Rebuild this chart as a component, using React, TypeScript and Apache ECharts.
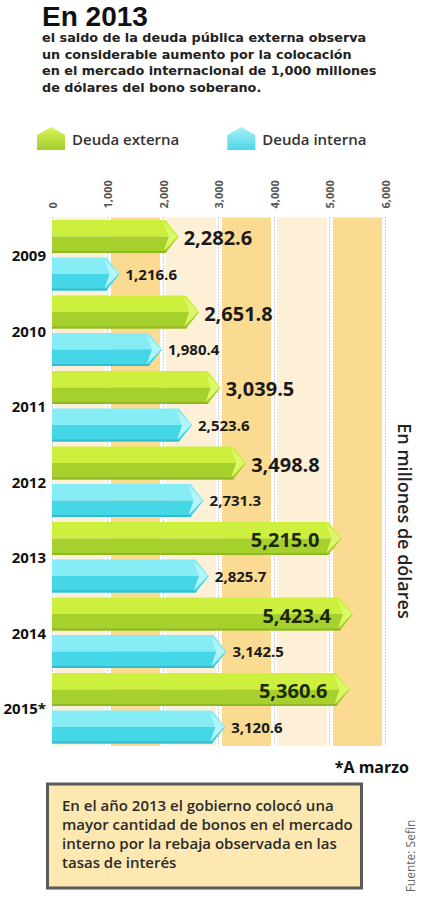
import { useEffect, useRef } from "react";
import * as echarts from "echarts";

const categories = ["2009", "2010", "2011", "2012", "2013", "2014", "2015*"];
const deudaExterna = [2282.6, 2651.8, 3039.5, 3498.8, 5215.0, 5423.4, 5360.6];
const deudaInterna = [1216.6, 1980.4, 2523.6, 2731.3, 2825.7, 3142.5, 3120.6];
const seriesNames = ["Deuda externa", "Deuda interna"];
const axisMin = 0;
const axisMax = 6000;
const axisStep = 1000;

const titleText = "En 2013";
const subtitleLines = [
  "el saldo de la deuda pública externa observa",
  "un considerable aumento por la colocación",
  "en el mercado internacional de 1,000 millones",
  "de dólares del bono soberano.",
];
const unitText = "En millones de dólares";
const noteText = "*A marzo";
const boxLines = [
  "En el año 2013 el gobierno colocó una",
  "mayor cantidad de bonos en el mercado",
  "interno por la rebaja observada en las",
  "tasas de interés",
];
const sourceText = "Fuente: Sefin";

const FONT = "'Open Sans', 'Noto Sans', sans-serif";
const WIDE = "'DejaVu Sans', 'Open Sans', sans-serif";
const TITLE_FONT = "'Liberation Sans', 'Open Sans', sans-serif";

const palettes = [
  { light: "#cdf03f", dark: "#a6d12c", face: "#dcf76a", edge: "#8fb826", legendTop: "#d6f55a", legendBot: "#a2cc2b" },
  { light: "#86ecf5", dark: "#45d6e7", face: "#b2f5fa", edge: "#33bccd", legendTop: "#a5f1f7", legendBot: "#4fd6e6" },
];

const fmt = (v: number) =>
  v.toLocaleString("en-US", { minimumFractionDigits: 1, maximumFractionDigits: 1 });

function makeRenderItem(idx: number) {
  const pal = palettes[idx];
  return (params: any, api: any) => {
    const val = api.value(0);
    const cat = api.value(1);
    const p0 = api.coord([0, cat]);
    const p1 = api.coord([val, cat]);
    const band = api.size([0, 1])[1];
    const cy = p0[1] + (idx === 0 ? -1 : 1) * band * 0.248;
    const h = band * 0.437;
    const top = cy - h / 2;
    const bot = cy + h / 2;
    const x0 = p0[0];
    const xv = p1[0];
    const tip = 13;
    const xe = xv - tip;
    const children: any[] = [
      {
        type: "polygon",
        shape: { points: [[x0, top], [xe, top], [xv, cy], [x0, cy]] },
        style: { fill: pal.light },
      },
      {
        type: "polygon",
        shape: { points: [[x0, cy], [xv, cy], [xe, bot], [x0, bot]] },
        style: { fill: pal.dark },
      },
      {
        type: "polygon",
        shape: { points: [[x0, bot - 2], [xe + 1, bot - 2], [xe, bot], [x0, bot]] },
        style: { fill: pal.edge },
      },
      {
        type: "polygon",
        shape: { points: [[xe - 2, top + 2], [xv - 1, cy], [xe - 2, bot - 2], [xe + 3, cy]] },
        style: { fill: pal.face },
      },
    ];
    const txt = fmt(val);
    if (idx === 0) {
      const inside = val > 4500;
      children.push({
        type: "text",
        style: {
          text: txt,
          x: inside ? xv - 22 : xv + 5,
          y: cy + 1,
          align: inside ? "right" : "left",
          verticalAlign: "middle",
          fontFamily: FONT,
          fontWeight: "bold",
          fontSize: 20,
          fill: inside ? "#1c2a06" : "#1a1a1a",
        },
      });
    } else {
      children.push({
        type: "text",
        style: {
          text: txt,
          x: xv + 6,
          y: cy,
          align: "left",
          verticalAlign: "middle",
          fontFamily: FONT,
          fontWeight: "bold",
          fontSize: 15,
          fill: "#1a1a1a",
        },
      });
    }
    return { type: "group", children };
  };
}

export default function App() {
  const ref = useRef<HTMLDivElement>(null);
  useEffect(() => {
    if (!ref.current) return;
    const chart = echarts.init(ref.current, null, { renderer: "svg" });
    const grad = (p: any) =>
      new echarts.graphic.LinearGradient(0, 0, 0, 1, [
        { offset: 0, color: p.legendTop },
        { offset: 1, color: p.legendBot },
      ]);
    const option: any = {
      animation: false,
      backgroundColor: "#ffffff",
      textStyle: { fontFamily: FONT },
      grid: { left: 52, right: 36, top: 217.5, bottom: 154, containLabel: false },
      legend: {
        left: 37,
        top: 127,
        padding: 0,
        itemWidth: 28,
        itemHeight: 23,
        itemGap: 48,
        selectedMode: false,
        textStyle: { fontSize: 15, fontWeight: 600, color: "#333", fontFamily: FONT, padding: [2, 0, 0, 2] },
        data: seriesNames.map((n, i) => ({
          name: n,
          icon: "path://M0,8 L14,0 L28,8 L28,23 L0,23 Z",
          itemStyle: { color: grad(palettes[i]) },
        })),
      },
      xAxis: [
        {
          type: "value",
          position: "top",
          min: axisMin,
          max: axisMax,
          interval: axisStep,
          axisLine: { show: false },
          axisTick: { show: false },
          axisLabel: {
            rotate: -90,
            margin: 9,
            fontSize: 11,
            fontWeight: "bold",
            color: "#555",
            fontFamily: FONT,
            formatter: (v: number) => v.toLocaleString("en-US"),
          },
          splitArea: { show: true, areaStyle: { color: ["#fdf0d6", "#fadb91"] } },
          splitLine: { show: true, lineStyle: { color: "#ffffff", width: 6 } },
        },
        {
          type: "value",
          min: axisMin,
          max: axisMax,
          interval: axisStep,
          axisLine: { show: false },
          axisTick: { show: false },
          axisLabel: { show: false },
          splitLine: { show: true, lineStyle: { color: "#9ba3b8", width: 1, type: [1, 2] } },
        },
      ],
      yAxis: {
        type: "category",
        data: categories,
        inverse: true,
        axisLine: { show: false },
        axisTick: { show: false },
        axisLabel: {
          margin: 6,
          fontSize: 15,
          fontWeight: "bold",
          color: "#111",
          fontFamily: FONT,
        },
      },
      series: [
        {
          type: "custom",
          name: seriesNames[0],
          xAxisIndex: 0,
          itemStyle: { color: palettes[0].dark },
          renderItem: makeRenderItem(0),
          encode: { x: 0, y: 1 },
          data: deudaExterna.map((v, i) => [v, i]),
          z: 5,
        },
        {
          type: "custom",
          name: seriesNames[1],
          xAxisIndex: 0,
          itemStyle: { color: palettes[1].dark },
          renderItem: makeRenderItem(1),
          encode: { x: 0, y: 1 },
          data: deudaInterna.map((v, i) => [v, i]),
          z: 5,
        },
      ],
      graphic: [
        {
          type: "text",
          x: 42,
          y: 16.3,
          style: {
            text: titleText,
            fontFamily: TITLE_FONT,
            fontWeight: "bold",
            fontSize: 28,
            lineHeight: 24,
            verticalAlign: "middle",
            fill: "#111",
          },
        },
        {
          type: "text",
          x: 42,
          y: 29.8,
          style: {
            text: subtitleLines.join("\n"),
            fontFamily: WIDE,
            fontWeight: "bold",
            fontSize: 12.8,
            lineHeight: 16.4,
            fill: "#222",
            verticalAlign: "top",
          },
        },
        {
          type: "text",
          x: 405,
          y: 521,
          rotation: -Math.PI / 2,
          style: {
            text: unitText,
            align: "center",
            verticalAlign: "middle",
            fontFamily: FONT,
            fontWeight: 600,
            fontSize: 18,
            fill: "#222",
          },
        },
        {
          type: "text",
          x: 409,
          y: 767,
          style: {
            text: noteText,
            align: "right",
            verticalAlign: "middle",
            fontFamily: FONT,
            fontWeight: "bold",
            fontSize: 16,
            fill: "#111",
          },
        },
        {
          type: "rect",
          shape: { x: 47.5, y: 784, width: 314, height: 104 },
          style: { fill: "#fde8b2", stroke: "#5a5a5a", lineWidth: 3 },
        },
        {
          type: "text",
          x: 62,
          y: 795.5,
          style: {
            text: boxLines.join("\n"),
            fontFamily: FONT,
            fontWeight: 600,
            fontSize: 15,
            lineHeight: 19,
            fill: "#2a2a2a",
            verticalAlign: "top",
          },
        },
        {
          type: "text",
          x: 410,
          y: 856,
          rotation: Math.PI / 2,
          style: {
            text: sourceText,
            align: "center",
            verticalAlign: "middle",
            fontFamily: FONT,
            fontSize: 12,
            fill: "#666",
          },
        },
      ],
    };
    chart.setOption(option);
    return () => chart.dispose();
  }, []);
  return (
    <div
      ref={ref}
      style={{ position: "fixed", left: 0, top: 0, width: 421, height: 900, background: "#fff" }}
    />
  );
}
